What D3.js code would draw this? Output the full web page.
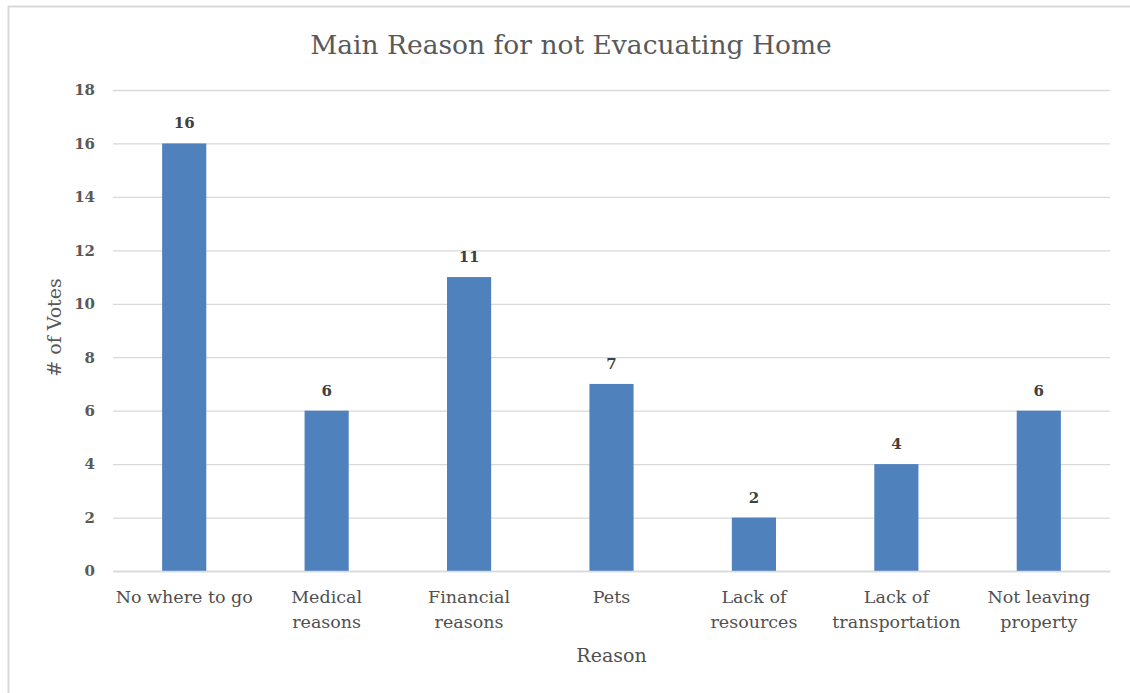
<!DOCTYPE html>
<html><head><meta charset="utf-8">
<script src="https://cdn.jsdelivr.net/npm/d3@7"></script>
<style>body{margin:0;background:#fff;} svg{display:block;}</style>
</head><body>
<svg id="c" width="1130" height="693"></svg>
<script>
const categories = [["No where to go"],["Medical","reasons"],["Financial","reasons"],["Pets"],["Lack of","resources"],["Lack of","transportation"],["Not leaving","property"]];
const votes = [16, 6, 11, 7, 2, 4, 6];
const yTicks = [0, 2, 4, 6, 8, 10, 12, 14, 16, 18];
const title = "Main Reason for not Evacuating Home";
const xTitle = "Reason";
const yTitle = "# of Votes";

const svg = d3.select("#c");
const font = "'DejaVu Serif', serif";
const txt = "#595959";
const m = {l:113, r:1110, t:90, b:571};

svg.append("rect").attr("x",8.5).attr("y",6.5).attr("width",1140).attr("height",700)
  .attr("fill","#fff").attr("stroke","#d9d9d9").attr("stroke-width",2);

const labels = categories.map(c => c.join(" "));
const x = d3.scaleBand().domain(labels).range([m.l, m.r]).paddingInner(0.69).paddingOuter(0.345);
const y = d3.scaleLinear().domain([0,18]).range([m.b, m.t]);

const yAxis = svg.append("g").attr("transform",`translate(${m.l},0)`)
  .call(d3.axisLeft(y).tickValues(yTicks).tickSize(-(m.r-m.l)).tickPadding(18));
yAxis.select(".domain").remove();
yAxis.selectAll(".tick line").attr("stroke","#d9d9d9").attr("stroke-width",1.3);
yAxis.selectAll(".tick text").attr("fill",txt).attr("font-family",font).attr("font-size",15).attr("font-weight","bold");

svg.append("g").selectAll("rect").data(votes).join("rect")
  .attr("x",(d,i)=>x(labels[i])).attr("width",x.bandwidth())
  .attr("y",d=>y(d)).attr("height",d=>y(0)-y(d)).attr("fill","#4f81bd");

svg.append("g").selectAll("text").data(votes).join("text")
  .attr("x",(d,i)=>x(labels[i])+x.bandwidth()/2).attr("y",d=>y(d)-15)
  .attr("text-anchor","middle").attr("fill","#404040").attr("font-family",font)
  .attr("font-size",15).attr("font-weight","bold").text(d=>d);

const xa = svg.append("g").attr("transform",`translate(0,${m.b})`)
  .call(d3.axisBottom(x).tickSize(0).tickFormat(""));
xa.select(".domain").attr("stroke","#d9d9d9").attr("stroke-width",1.3);
xa.selectAll(".tick").each(function(d,i){
  const t = d3.select(this).append("text").attr("fill","#505050").attr("font-family",font)
    .attr("font-size",17.5).attr("text-anchor","middle").attr("y",32);
  categories[i].forEach((line,j)=>t.append("tspan").attr("x",0).attr("dy",j?25:0).text(line));
});

svg.append("text").attr("x",571).attr("y",54).attr("text-anchor","middle").attr("fill",txt)
  .attr("font-family",font).attr("font-size",26.5).text(title);
svg.append("text").attr("x",(m.l+m.r)/2).attr("y",662).attr("text-anchor","middle").attr("fill","#505050")
  .attr("font-family",font).attr("font-size",19).text(xTitle);
svg.append("text").attr("transform",`translate(61,${(m.t+m.b)/2 - 3}) rotate(-90)`).attr("text-anchor","middle").attr("fill",txt)
  .attr("font-family",font).attr("font-size",19).text(yTitle);
</script>
</body></html>
